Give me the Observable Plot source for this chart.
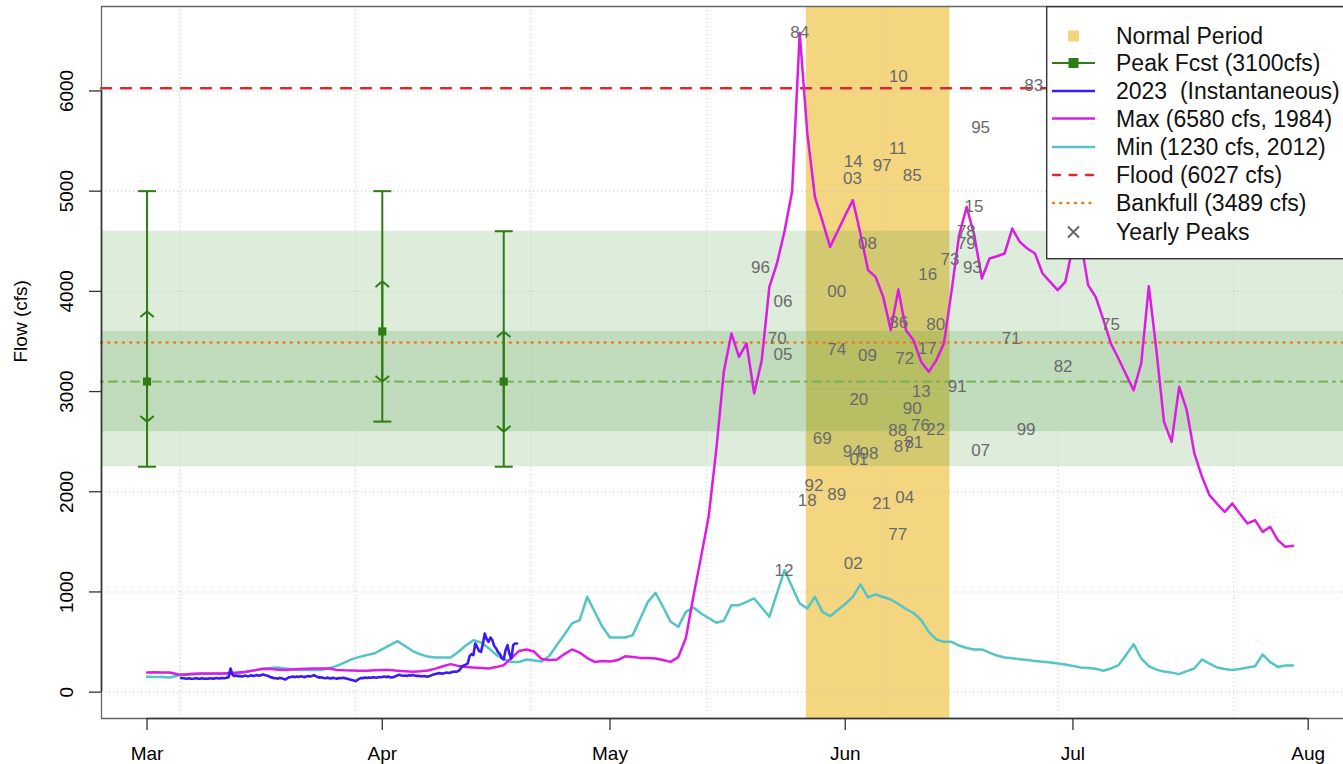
<!DOCTYPE html>
<html>
<head>
<meta charset="utf-8">
<script src="https://cdn.jsdelivr.net/npm/d3@7"></script>
<script src="https://cdn.jsdelivr.net/npm/@observablehq/plot@0.6"></script>
<style>
  body { margin: 0; background: #fff; }
  #wrap { position: relative; width: 1343px; height: 764px; overflow: hidden; font-family: "Liberation Sans", Arial, sans-serif; }
  #wrap > svg.chart { position: absolute; left: 0; top: 0; }
  #wrap > svg#legend { position: absolute; left: 1046px; top: 6px; }
</style>
</head>
<body>
<div id="wrap"></div>
<script>
// ---------------- data ----------------
const seriesStart = "2023-03-01";           // first day of the daily max / min series
const maxFlow = [
  197,198,197,196,178,175,183,187,187,187,
  187,192,197,203,215,230,234,226,220,225,
  230,234,236,236,236,222,218,216,214,214,
  218,220,220,214,208,203,208,216,235,258,
  280,262,252,246,242,236,250,269,340,410,
  426,405,330,320,326,380,426,395,340,302,
  310,305,320,358,350,342,340,336,320,302,
  350,540,960,1350,1750,2415,3197,3580,3346,3480,
  2981,3313,4045,4278,4600,5000,6580,5576,4943,4700,
  4444,4600,4760,4910,4578,4212,4145,3945,3613,4019,
  3613,3513,3297,3197,3313,3480,4000,4560,4843,4560,
  4128,4328,4350,4378,4627,4494,4428,4378,4178,4095,
  4012,4095,4450,4520,4062,3945,3720,3480,3330,3170,
  3014,3280,4052,3413,2698,2498,3047,2814,2382,2150,
  1966,1880,1799,1883,1780,1684,1717,1600,1650,1517,
  1450,1460
];
const minFlow = [
  153,152,150,147,163,173,177,180,182,183,
  184,186,187,200,215,230,238,245,238,228,
  220,220,220,220,240,262,295,330,352,370,
  388,430,470,509,460,410,378,355,346,346,
  346,400,465,519,495,440,375,330,300,300,
  326,315,305,360,470,575,686,719,951,800,
  652,546,546,546,569,735,901,991,850,702,
  652,801,845,785,740,692,712,868,868,900,
  935,845,752,985,1218,1050,885,835,951,801,
  758,820,880,951,1075,945,975,950,925,880,
  830,790,720,602,526,502,502,465,440,426,
  426,395,365,346,338,329,320,312,304,296,
  286,276,262,246,240,233,213,236,269,370,
  479,336,259,225,205,195,180,210,236,326,
  285,246,232,220,232,245,259,376,300,252,
  266,266
];
// 2023 instantaneous observations, one value every 6 hours
const obsStart = "2023-03-05T12:00Z";
const obsStepHours = 6;
const obsFlow = [
  140,138,
  136,134,138,135, 133,136,140,134, 135,138,133,136, 134,139,137,135, 138,141,137,140,
  142,139,145,150, 236,175,160,165, 158,162,155,160, 165,158,162,168, 160,165,170,163,
  168,177,172,165, 160,150,145,140, 138,135,142,138, 132,126,140,148, 152,155,150,156,
  152,158,154,150, 155,160,156,162, 170,160,150,145, 148,142,138,145, 140,136,143,138,
  135,140,138,144, 140,136,132,126, 122,116,110,122, 135,142,140,146, 142,146,143,148,
  147,144,150,148, 152,156,150,155, 150,147,152,158, 168,173,166,164, 166,162,168,165,
  170,166,162,164, 160,158,162,156, 155,160,170,177, 180,186,190,187, 185,190,195,192,
  195,200,205,203, 210,225,259,265, 275,286,360,380, 370,486,450,410, 402,480,585,530,
  502,545,520,460, 436,400,380,340, 326,420,469,380, 336,470,486,486
];
// peak forecasts
const fcstDates = ["2023-03-01", "2023-04-01", "2023-04-17"];
const fcstMid  = [3100, 3600, 3100];
const fcstLow  = [2250, 2700, 2250];
const fcstHigh = [5000, 5000, 4600];
const fcstQ25  = [2700, 3100, 2600];
const fcstQ75  = [3800, 4100, 3600];
// thresholds
const floodFlow = 6027;
const bankfullFlow = 3489;
const peakFcstFlow = 3100;
// normal peak period
const normalPeriod = ["2023-05-26T21:00Z", "2023-06-14T19:00Z"];
// yearly peaks (two-digit year, month-day time, flow)
const peakYears = ["84","10","83","95","14","03","97","11","85","15","08","78","79","96","73","93","16","00","06","86","80","71","70","74","17","05","09","72","75","82","91","13","20","90","76","22","88","69","99","07","81","87","94","98","01","92","18","89","21","04","77","12","02"];
const peakTimes = ["05-26T00","06-08T00","06-25T20","06-18T20","06-02T01","06-01T23","06-05T21","06-07T22","06-09T20","06-17T23","06-03T22","06-16T23","06-16T23","05-20T20","06-14T19","06-17T18","06-11T21","05-30T21","05-23T19","06-08T01","06-12T22","06-22T21","05-23T01","05-30T21","06-11T19","05-23T19","06-03T22","06-08T20","07-05T23","06-29T17","06-15T18","06-11T00","06-02T19","06-09T20","06-10T22","06-12T22","06-07T22","05-28T23","06-24T20","06-18T20","06-10T01","06-08T15","06-01T22","06-04T03","06-02T19","05-27T21","05-27T00","05-30T21","06-05T19","06-08T20","06-07T22","05-23T22","06-02T01"];
const peakFlows = [6580,6140,6050,5630,5300,5130,5260,5430,5160,4850,4480,4600,4480,4240,4320,4240,4170,4000,3900,3690,3670,3530,3530,3420,3430,3370,3360,3330,3670,3250,3050,3000,2920,2830,2660,2620,2610,2530,2620,2410,2490,2450,2400,2380,2320,2060,1910,1970,1880,1940,1570,1210,1280];
// axes
const xDomain = ["2023-02-23T00:00Z", "2023-08-05T15:40Z"];
const yDomain = [-263, 6843];
const monthTicks = ["2023-03-01","2023-04-01","2023-05-01","2023-06-01","2023-07-01","2023-08-01"];
const monthLabels = ["Mar","Apr","May","Jun","Jul","Aug"];
const yTicks = [0,1000,2000,3000,4000,5000,6000];
const gridSeconds = [1678e6,1680e6,1682e6,1684e6,1686e6,1688e6,1690e6];
const yTitle = "Flow (cfs)";
const legendLabels = ["Normal Period","Peak Fcst (3100cfs)","2023  (Instantaneous)","Max (6580 cfs, 1984)","Min (1230 cfs, 2012)","Flood (6027 cfs)","Bankfull (3489 cfs)","Yearly Peaks"];

// ---------------- colours ----------------
const cYellow = "#F4D681", cBand = "#2E8B22", cGrid = "#c4c4c4";
const cMax = "#DC1CE4", cMin = "#55C4C6", cObs = "#3A1CF2";
const cFlood = "#E0262A", cBank = "#F07B22", cFcstLine = "#7DB35B", cFcst = "#2D7D14";
const cPeak = "#6a6a6a";

// ---------------- build tables ----------------
const t0 = new Date(seriesStart + "T00:00Z").getTime();
const DAY = 864e5;
const daily = maxFlow.map((v, i) => ({date: new Date(t0 + i * DAY), max: v, min: minFlow[i]}));
const o0 = new Date(obsStart).getTime();
const obs = obsFlow.map((v, i) => ({date: new Date(o0 + i * obsStepHours * 3600e3), flow: v}));
const fcst = fcstDates.map((d, i) => ({date: new Date(d), mid: fcstMid[i], low: fcstLow[i], high: fcstHigh[i], q25: fcstQ25[i], q75: fcstQ75[i]}));
const peaks = peakYears.map((y, i) => ({date: new Date(`2023-${peakTimes[i]}:00Z`), flow: peakFlows[i], year: y}));
const lastF = fcst[fcst.length - 1];
const bands = [{lo: lastF.low, hi: lastF.high}, {lo: lastF.q25, hi: lastF.q75}];
const monthMap = new Map(monthTicks.map((t, i) => [+new Date(t), monthLabels[i]]));
const xd = xDomain.map(d => new Date(d));
const capSymbol = {draw(ctx, size) { const r = Math.sqrt(size / Math.PI); ctx.moveTo(-r, 0); ctx.lineTo(r, 0); }};

const chart = Plot.plot({
  width: 1343, height: 764,
  marginLeft: 101, marginRight: 0, marginTop: 6, marginBottom: 46,
  x: {type: "utc", domain: xd, label: null},
  y: {domain: yDomain, label: null},
  style: {fontFamily: '"Liberation Sans", Arial, sans-serif', background: "white", color: "#000", overflow: "visible"},
  marks: [
    Plot.rect([normalPeriod], {x1: d => new Date(d[0]), x2: d => new Date(d[1]), fill: cYellow}),
    Plot.rect(bands, {y1: "lo", y2: "hi", fill: cBand, fillOpacity: 0.16}),
    Plot.ruleX(gridSeconds.map(s => new Date(s * 1000)), {stroke: cGrid, strokeDasharray: "1,3", strokeWidth: 1}),
    Plot.ruleY(yTicks, {stroke: cGrid, strokeDasharray: "1,3", strokeWidth: 1}),
    Plot.ruleY([floodFlow], {stroke: cFlood, strokeWidth: 2.5, strokeDasharray: "10,10", strokeLinecap: "round"}),
    Plot.ruleY([bankfullFlow], {stroke: cBank, strokeWidth: 2.4, strokeDasharray: "1,6.3", strokeLinecap: "round"}),
    Plot.ruleY([peakFcstFlow], {stroke: cFcstLine, strokeWidth: 2.2, strokeDasharray: "2,6,8,6", strokeLinecap: "round"}),
    Plot.line(daily, {x: "date", y: "min", stroke: cMin, strokeWidth: 2.5}),
    Plot.line(daily, {x: "date", y: "max", stroke: cMax, strokeWidth: 2.5}),
    Plot.line(obs, {x: "date", y: "flow", stroke: cObs, strokeWidth: 2.6}),
    Plot.ruleX(fcst, {x: "date", y1: "low", y2: "high", stroke: cFcst, strokeWidth: 2}),
    Plot.dot(fcst, {x: "date", y: "low", symbol: capSymbol, r: 9, stroke: cFcst, strokeWidth: 2, fill: "none"}),
    Plot.dot(fcst, {x: "date", y: "high", symbol: capSymbol, r: 9, stroke: cFcst, strokeWidth: 2, fill: "none"}),
    Plot.arrow(fcst, {x1: "date", x2: "date", y1: "mid", y2: "q75", stroke: cFcst, strokeWidth: 2, headLength: 6, headAngle: 100}),
    Plot.arrow(fcst, {x1: "date", x2: "date", y1: "mid", y2: "q25", stroke: cFcst, strokeWidth: 2, headLength: 6, headAngle: 100}),
    Plot.dot(fcst, {x: "date", y: "mid", symbol: "square", r: 4.6, fill: cFcst, stroke: "none"}),
    Plot.text(peaks, {x: "date", y: "flow", text: "year", fill: cPeak, fontSize: 17}),
    // frame (left, top, bottom)
    Plot.ruleX([xd[0]], {stroke: "#666", strokeWidth: 1.3}),
    Plot.ruleY([yDomain[0], yDomain[1]], {stroke: "#666", strokeWidth: 1.3}),
    // axis lines between first and last ticks
    Plot.ruleX([xd[0]], {y1: yTicks[0], y2: yTicks[yTicks.length - 1], stroke: "#333", strokeWidth: 1.6}),
    Plot.ruleY([yDomain[0]], {x1: new Date(monthTicks[0]), x2: new Date(monthTicks[monthTicks.length - 1]), stroke: "#333", strokeWidth: 1.6}),
    Plot.axisX({ticks: monthTicks.map(d => new Date(d)), tickFormat: d => monthMap.get(+d), tickSize: 12, tickPadding: 16, fontSize: 19, stroke: "#333", strokeWidth: 1.3, fill: "#000"}),
    Plot.axisY({ticks: yTicks, tickFormat: d => String(d), tickSize: 12, tickPadding: 16.5, tickRotate: -90, fontSize: 19, stroke: "#333", strokeWidth: 1.3, fill: "#000"}),
    Plot.text([yTitle], {frameAnchor: "left", dx: -81, rotate: -90, fontSize: 19, fill: "#000", text: d => d})
  ]
});
chart.classList.add("chart");
const wrap = document.getElementById("wrap");
wrap.appendChild(chart);

// ---------------- legend (HTML/SVG overlay) ----------------
const ly = [30, 57, 85, 112.5, 141, 169, 197, 226];
const sym = [
  `<rect x="22" y="${ly[0]-5.5}" width="11" height="11" fill="${cYellow}"/>`,
  `<line x1="6" x2="49" y1="${ly[1]}" y2="${ly[1]}" stroke="${cFcst}" stroke-width="2"/><rect x="22.5" y="${ly[1]-5}" width="10" height="10" fill="${cFcst}"/>`,
  `<line x1="6" x2="49" y1="${ly[2]}" y2="${ly[2]}" stroke="${cObs}" stroke-width="2.3"/>`,
  `<line x1="6" x2="49" y1="${ly[3]}" y2="${ly[3]}" stroke="${cMax}" stroke-width="2.5"/>`,
  `<line x1="6" x2="49" y1="${ly[4]}" y2="${ly[4]}" stroke="${cMin}" stroke-width="2.5"/>`,
  `<line x1="7" x2="49" y1="${ly[5]}" y2="${ly[5]}" stroke="${cFlood}" stroke-width="2.3" stroke-dasharray="7,9.5" stroke-linecap="round"/>`,
  `<line x1="7" x2="49" y1="${ly[6]}" y2="${ly[6]}" stroke="${cBank}" stroke-width="2.4" stroke-dasharray="1,6.3" stroke-linecap="round"/>`,
  `<path d="M22,${ly[7]-5.5}L33,${ly[7]+5.5}M22,${ly[7]+5.5}L33,${ly[7]-5.5}" stroke="#666" stroke-width="2"/>`
];
let lg = `<svg id="legend" width="300" height="254" xmlns="http://www.w3.org/2000/svg">`;
lg += `<rect x="0.7" y="0.7" width="320" height="252" fill="#fff" stroke="#333" stroke-width="1.4"/>`;
legendLabels.forEach((t, i) => {
  lg += sym[i];
  lg += `<text x="70" y="${ly[i]}" dy="0.36em" font-size="23" fill="#111" style="white-space:pre" font-family="Liberation Sans, Arial, sans-serif">${t}</text>`;
});
lg += `</svg>`;
wrap.insertAdjacentHTML("beforeend", lg);
</script>
</body>
</html>
